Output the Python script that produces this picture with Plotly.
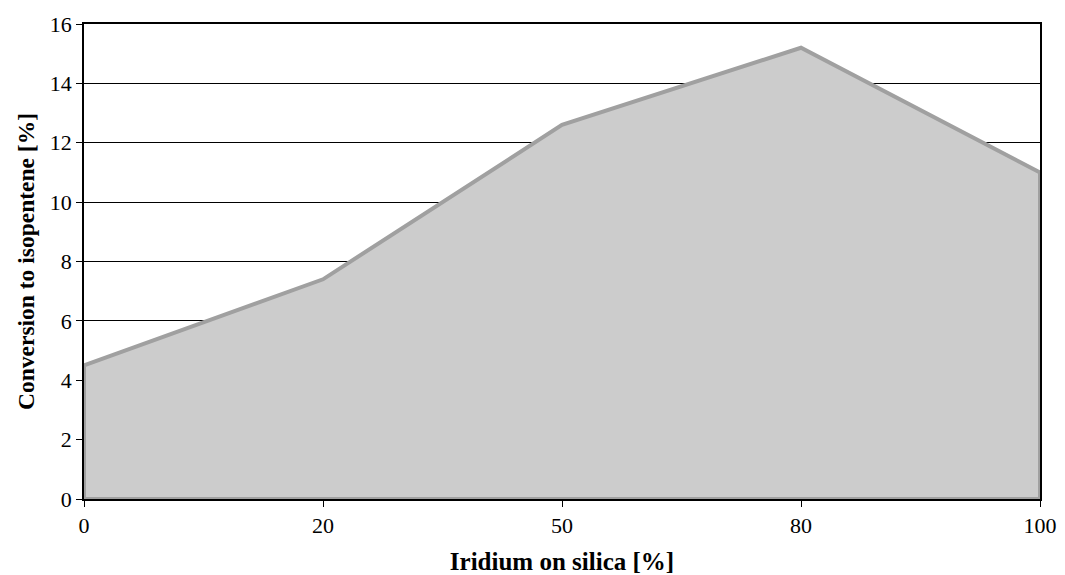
import plotly.graph_objects as go

# Iridium loading on silica (category labels) and conversion to isopentene
iridium_pct = ["0", "20", "50", "80", "100"]
conversion = [4.5, 7.4, 12.6, 15.2, 11.0]
y_ticks = [0, 2, 4, 6, 8, 10, 12, 14, 16]

# Closed outline of the filled area: down to zero at both ends
idx = list(range(len(iridium_pct)))
poly_x = [idx[0]] + idx + [idx[-1], idx[0]]
poly_y = [0] + conversion + [0, 0]

fig = go.Figure()
fig.add_trace(go.Scatter(
    x=poly_x, y=poly_y,
    mode="lines",
    fill="toself",
    fillcolor="#cccccc",
    line=dict(color="#a0a0a0", width=4),
    hoverinfo="skip",
    showlegend=False,
))

font_family = "Liberation Serif, Times New Roman, serif"

fig.update_layout(
    width=1065, height=575,
    margin=dict(l=84, r=25, t=24, b=76, autoexpand=False),
    paper_bgcolor="white",
    plot_bgcolor="white",
    font=dict(family=font_family, size=22, color="black"),
    xaxis=dict(
        range=[idx[0], idx[-1]],
        tickmode="array",
        tickvals=idx,
        ticktext=iridium_pct,
        showgrid=False,
        zeroline=False,
        automargin=False,
        showline=True, linecolor="black", linewidth=1.5, mirror=True,
        ticks="outside", ticklen=6, tickcolor="black", tickwidth=1,
        tickfont=dict(family=font_family, size=22, color="black"),
        title=dict(text="<b>Iridium on silica [%]</b>",
                   font=dict(family=font_family, size=25, color="black"),
                   standoff=20),
    ),
    yaxis=dict(
        range=[0, 16],
        tickmode="array",
        tickvals=y_ticks,
        showgrid=True, gridcolor="black", gridwidth=1,
        zeroline=False,
        automargin=False,
        showline=True, linecolor="black", linewidth=1.5, mirror=True,
        ticks="outside", ticklen=6, tickcolor="black", tickwidth=1,
        tickfont=dict(family=font_family, size=22, color="black"),
        title=dict(text="<b>Conversion to isopentene [%]</b>",
                   font=dict(family=font_family, size=23.5, color="black"),
                   standoff=9),
    ),
)

fig.write_html("out.html")
